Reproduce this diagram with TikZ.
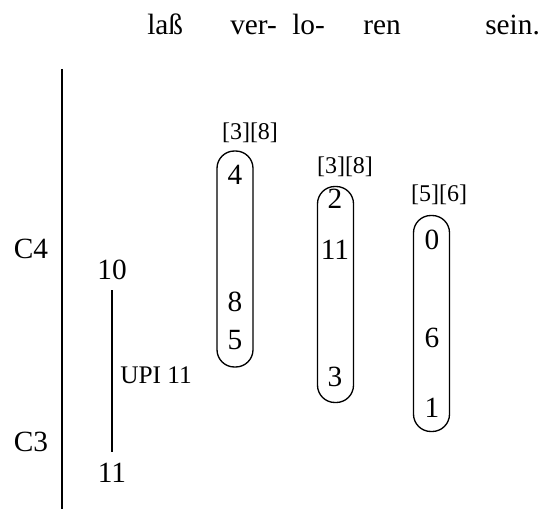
\documentclass[tikz,border=0pt]{standalone}
\usepackage{fontspec}
\setmainfont{Liberation Serif}
\usetikzlibrary{positioning}

\begin{document}
\begin{tikzpicture}[x=0.75pt,y=-0.75pt,font=\fontsize{22}{26}\selectfont,
  syl/.style={anchor=base west,inner sep=0pt},
  num/.style={inner sep=0pt},
  set/.style={inner sep=0pt,font=\fontsize{18}{20}\selectfont},
  capsule/.style={draw,line width=1pt,rounded corners=13pt,minimum width=27pt,minimum height=162pt,inner sep=0pt}]
\useasboundingbox (0,0) rectangle (541,509);
% text line
\node[syl] (w1) at (147,35) {laß};
\node[syl] (w2) at (230,35) {ver-};
\node[syl] (w3) at (292,35) {lo-};
\node[syl] (w4) at (363,35) {ren};
\node[syl] (w5) at (485,35) {sein.};
% register axis
\draw[line width=1.5pt] (62,69) -- (62,509);
\node[num] (c4) at (31,249) {C4};
\node[num] (c3) at (31,442) {C3};
% span
\node[num] (top) at (112,270) {10};
\node[num] (bot) at (112,473) {11};
\draw[line width=1.2pt,shorten <=7.5pt,shorten >=8.5pt] (top) -- (bot);
\node[anchor=west,inner sep=0pt,font=\fontsize{19}{22}\selectfont] (upi) at (120,375) {UPI 11};
% first group
\node[capsule] (g1) at (235,259) {};
\node[set] (s1) at (250,133) {[3][8]};
\node[num] (g1a) at (235,175) {4};
\node[num] (g1b) at (235,302) {8};
\node[num] (g1c) at (235,340) {5};
% second group
\node[capsule] (g2) at (335.5,294.5) {};
\node[set] (s2) at (345,167) {[3][8]};
\node[num] (g2a) at (335,199) {2};
\node[num] (g2b) at (335,250) {11};
\node[num] (g2c) at (335,377) {3};
% third group
\node[capsule] (g3) at (431.5,323.5) {};
\node[set] (s3) at (439,195) {[5][6]};
\node[num] (g3a) at (432,240) {0};
\node[num] (g3b) at (432,338) {6};
\node[num] (g3c) at (432,408) {1};
\end{tikzpicture}
\end{document}
